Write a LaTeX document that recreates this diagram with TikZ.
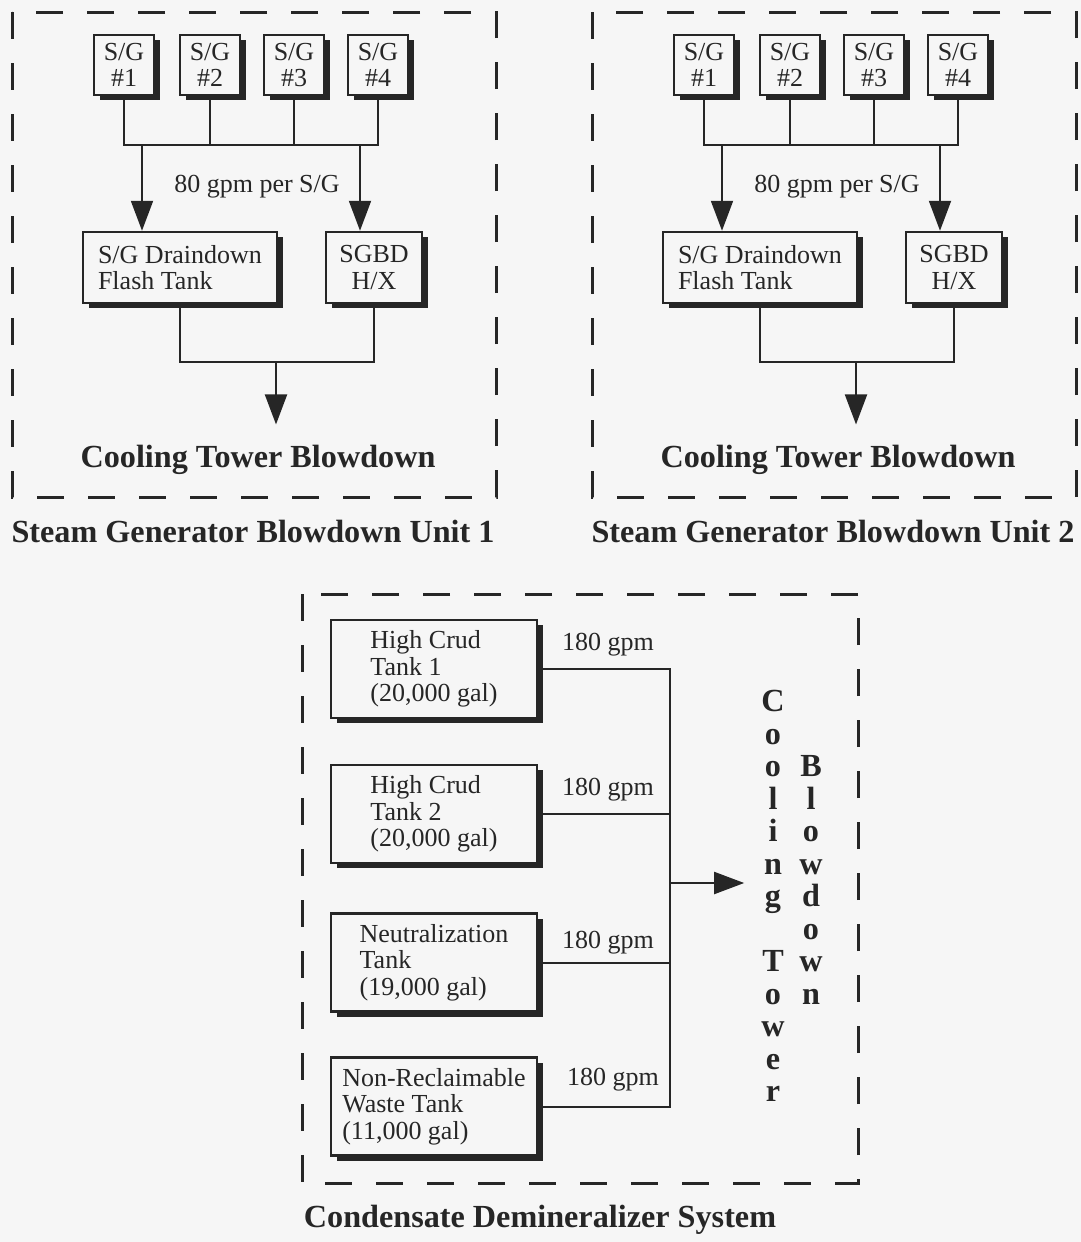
\documentclass[tikz,border=0pt]{standalone}
\usepackage{fontspec}
\setmainfont{Liberation Serif}
\usetikzlibrary{arrows.meta,shadows}
\definecolor{ink}{gray}{0.15}
\definecolor{paper}{gray}{0.965}
\newcommand{\regfont}{\fontsize{26}{26.5}\selectfont}
\newcommand{\headfont}{\fontsize{32.2}{32.5}\selectfont\bfseries}
\begin{document}
\begin{tikzpicture}[x=1pt,y=-1pt,
  box/.style={draw=ink,line width=2.5pt,fill=paper,font=\regfont,text=ink,inner sep=2pt,
    drop shadow={shadow xshift=6pt,shadow yshift=-5pt,fill=ink,opacity=1}},
  tank/.style={box,minimum width=206pt,minimum height=98pt,align=left},
  pipe/.style={draw=ink,line width=2pt},
  flow/.style={pipe,-{Triangle[length=30pt,width=22pt]}},
  frame/.style={draw=ink,line width=3pt,dash pattern=on 27pt off 24pt},
  lbl/.style={font=\regfont,text=ink,anchor=base},
  hdg/.style={font=\headfont,text=ink,anchor=base}]
\fill[paper] (0,0) rectangle (1081,1242);
\foreach \u/\dx in {1/0,2/580}{
\begin{scope}[xshift=\dx pt]
\draw[frame] (12,12) rectangle (496,497);
\foreach \i/\x in {1/124,2/210,3/294,4/378}
  \node[box,minimum width=60pt,minimum height=60pt,align=center] (sg\u-\i) at (\x,65) {S/G\\\#\i};
\coordinate (bus\u) at (0,145);
\draw[pipe] (sg\u-1.south) |- (sg\u-4.south |- bus\u) -- (sg\u-4.south);
\draw[pipe] (sg\u-2.south) -- (sg\u-2.south |- bus\u);
\draw[pipe] (sg\u-3.south) -- (sg\u-3.south |- bus\u);
\node[box,minimum width=194pt,minimum height=71pt,align=left] (ft\u) at (180,267.5) {S/G Draindown\\Flash Tank};
\node[box,minimum width=96pt,minimum height=71pt,align=center] (hx\u) at (374,267.5) {SGBD\\H/X};
\coordinate (inA\u) at (142,145);
\coordinate (inB\u) at (360,145);
\draw[flow] (inA\u) -- (inA\u |- ft\u.north);
\draw[flow] (inB\u) -- (inB\u |- hx\u.north);
\node[lbl] (rate\u) at (257,192) {80 gpm per S/G};
\coordinate (join\u) at (276,362);
\draw[pipe] (ft\u.south) |- (join\u) -| (hx\u.south);
\node[hdg,inner ysep=20pt] (ctb\u) at (258,467) {Cooling Tower Blowdown};
\draw[flow] (join\u) -- (join\u |- ctb\u.north);
\node[hdg] (unit\u) at (253,542) {Steam Generator Blowdown Unit \u};
\end{scope}}
\draw[frame] (302,594) rectangle (858,1183);
\node[tank] (tk1) at (434,669) {High Crud\\Tank 1\\(20,000 gal)};
\node[tank] (tk2) at (434,814) {High Crud\\Tank 2\\(20,000 gal)};
\node[tank] (tk3) at (434,962.5) {Neutralization\\Tank\\(19,000 gal)};
\node[tank] (tk4) at (434,1106.5) {Non-Reclaimable\\Waste Tank\\(11,000 gal)};
\coordinate (cdj) at (670,883);
\draw[pipe] (tk1.east) -| (cdj) |- (tk4.east);
\draw[pipe] (tk2.east) -- (tk2.east -| cdj);
\draw[pipe] (tk3.east) -- (tk3.east -| cdj);
\foreach \i/\x/\y in {1/608/650,2/608/795,3/608/948,4/613/1085}
  \node[lbl] (gpm\i) at (\x,\y) {180 gpm};
\node[hdg,anchor=center,align=center,inner xsep=17pt] (ctw) at (773,896) {C\\o\\o\\l\\i\\n\\g\\[32.5pt]T\\o\\w\\e\\r};
\node[hdg,anchor=center,align=center] (bdn) at (811,880) {B\\l\\o\\w\\d\\o\\w\\n};
\draw[flow] (cdj) -- (cdj -| ctw.west);
\node[hdg] (cds) at (540,1227) {Condensate Demineralizer System};
\end{tikzpicture}
\end{document}
